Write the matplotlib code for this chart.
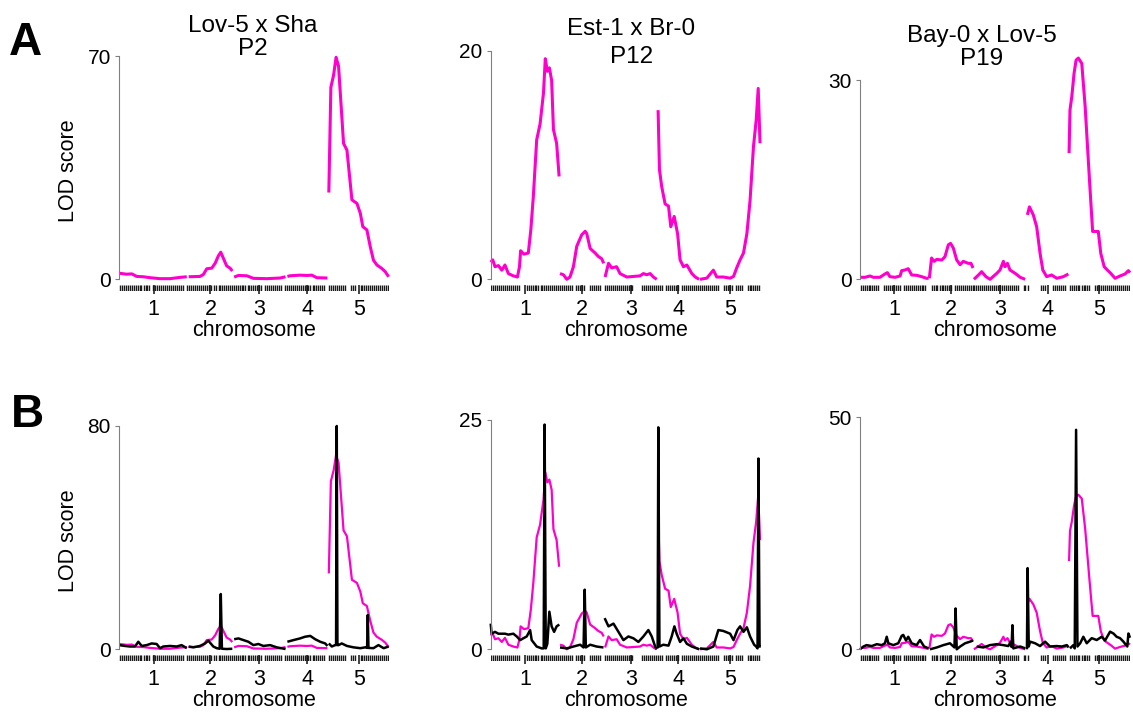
import matplotlib
matplotlib.use("Agg")
import matplotlib.pyplot as plt

plt.rcParams['font.family'] = ['Liberation Sans', 'DejaVu Sans']

W, H = 1133, 717
MAGENTA = '#ff00cc'

# Arabidopsis chromosome lengths (Mb), genome axis is cumulative
chrom_len = [30.4, 19.7, 23.5, 18.6, 27.0]
chrom_labels = ['1', '2', '3', '4', '5']

# shared marker map (cumulative Mb)
marker_map = [
    0.3, 1.2, 2.0, 2.9, 3.8, 4.6, 5.5, 6.4, 7.2, 8.1, 9.0, 9.8, 10.7, 11.6, 12.4,
    13.3, 14.2, 15.0, 15.9, 16.8, 17.6, 18.5, 19.4, 20.2, 21.1, 22.0, 22.8, 23.7,
    24.6, 25.4, 26.3, 27.2, 28.0, 28.9, 29.8,
    30.8, 31.6, 32.5, 33.4, 34.2, 35.1, 36.0, 36.8, 37.7, 38.6, 39.4, 40.3, 41.2,
    42.0, 42.9, 43.8, 44.6, 45.5, 46.4, 47.2, 48.1, 49.0, 49.8,
    50.5, 51.4, 52.2, 53.1, 54.0, 54.8, 55.7, 56.6, 57.4, 58.3, 59.2, 60.0, 60.9,
    61.8, 62.6, 63.5, 64.4, 65.2, 66.1, 67.0, 67.8, 68.7, 69.6, 70.4, 71.3, 72.2, 73.0,
    74.0, 74.9, 75.7, 76.6, 77.5, 78.3, 79.2, 80.1, 80.9, 81.8, 82.7, 83.5, 84.4,
    85.3, 86.1, 87.0, 87.9, 88.7, 89.6, 90.5, 91.3,
    92.6, 93.5, 94.3, 95.2, 96.1, 96.9, 97.8, 98.7, 99.5, 100.4, 101.3, 102.1, 103.0,
    103.9, 104.7, 105.6, 106.5, 107.3, 108.2, 109.1, 109.9, 110.8, 111.7, 112.5,
    113.4, 114.3, 115.1, 116.0, 116.9, 117.7, 118.6,
]
# stretches without informative markers in each cross
gaps_p2 = [(14.0, 14.8), (28.5, 29.0), (40.6, 41.3), (63.3, 64.0), (71.5, 72.3),
           (90.6, 91.4), (100.0, 101.5), (104.0, 105.8)]
gaps_p12 = [(12.8, 15.2), (36.3, 36.9), (41.6, 43.3), (48.2, 49.9), (63.0, 66.8),
            (76.0, 76.8), (83.4, 83.9), (101.2, 102.9), (107.0, 107.5), (111.5, 113.2)]
gaps_p19 = [(8.6, 10.4), (18.3, 18.8), (29.2, 30.9), (41.0, 41.5), (69.8, 71.5),
            (74.3, 79.6), (82.3, 84.7), (91.2, 91.6), (101.5, 103.6)]

# ---- P2 : Lov-5 x Sha ----
p2_pos = [
    [0, 3.2, 5.5, 7.7, 10.6, 13.6, 18.0, 22.4, 26.8, 29.8],
    [30.6, 35.6, 37.1, 38.6, 40.8, 42.3, 43.7, 44.8, 46.3, 47.4, 48.9, 49.9],
    [50.7, 52.6, 56.3, 59.2, 65.1, 71.0, 73.4],
    [74.2, 75.4, 79.8, 82.8, 85.0, 87.2, 91.9],
    [92.5, 93.4, 94.6, 95.7, 96.8, 99.0, 100.5, 102.7, 104.9, 106.4, 107.5, 109.3,
     110.8, 112.2, 113.7, 115.9, 117.4, 118.9],
]
p2_lod = [
    [1.9, 1.6, 1.7, 0.9, 0.8, 0.5, 0.2, 0.2, 0.6, 0.8],
    [0.8, 0.9, 1.5, 3.3, 3.5, 5.0, 7.3, 8.5, 6.0, 4.2, 3.5, 2.6],
    [0.7, 1.2, 1.1, 0.3, 0.2, 0.4, 0.8],
    [0.9, 1.1, 1.3, 1.2, 1.3, 0.5, 0.4],
    [27.2, 60.2, 64.0, 69.6, 66.8, 42.6, 40.5, 24.9, 23.8, 20.7, 16.5, 15.5,
     10.2, 6.0, 4.5, 3.4, 2.4, 0.8],
]
p2_cof_pos = [
    [0, 2.5, 4.7, 6.9, 8.4, 9.9, 12.1, 14.3, 16.5, 18.0, 19.4, 22.4, 25.3, 27.5, 29.8],
    [30.6, 32.7, 35.6, 37.9, 39.3, 41.5, 43.0, 44.3, 44.8, 45.3, 47.4, 49.9],
    [50.7, 52.6, 54.8, 57.0, 59.2, 61.4, 63.6, 66.6, 69.5, 73.4],
    [74.2, 76.9, 79.8, 82.0, 84.3, 86.5, 88.7, 90.9, 91.9],
    [92.5, 93.8, 95.3, 95.7, 96.0, 96.3, 96.8, 98.2, 100.5, 103.4, 106.4, 108.6,
     109.4, 109.7, 110.0, 112.2, 114.4, 116.7, 118.9],
]
p2_cof_lod = [
    [1.5, 1.2, 1.0, 1.0, 2.7, 1.2, 1.5, 2.1, 1.9, 0.4, 1.0, 1.2, 1.0, 1.5, 0.4],
    [1.0, 0.7, 1.2, 2.1, 3.1, 1.0, 0.4, 0.2, 19.8, 0.2, 0.1, 0.2],
    [3.6, 3.9, 3.3, 2.7, 1.5, 1.9, 1.2, 1.5, 0.7, 0.1],
    [2.7, 3.3, 3.9, 4.5, 4.8, 3.6, 2.7, 2.1, 1.2],
    [2.1, 1.0, 1.5, 1.5, 80.0, 1.5, 1.5, 2.1, 1.2, 0.7, 0.4, 0.7,
     0.5, 12.3, 0.5, 0.4, 1.5, 0.4, 1.0],
]

# ---- P12 : Est-1 x Br-0 ----
p12_pos = [
    [0, 0.9, 1.9, 3.4, 4.9, 6.3, 7.8, 10.0, 11.8, 12.7, 13.2, 14.7, 16.6, 17.7, 18.8,
     20.3, 21.8, 23.3, 24.1, 25.0, 25.9, 26.9, 27.7, 29.1, 30.2],
    [30.6, 32.1, 33.6, 35.0, 36.5, 38.0, 40.2, 41.7, 42.4, 43.9, 46.1, 47.5, 49.0, 49.9],
    [50.5, 52.0, 53.4, 55.6, 57.1, 60.1, 63.0, 65.9, 67.4, 68.9, 70.4, 71.8, 73.3],
    [73.9, 74.5, 75.5, 77.0, 78.5, 79.5, 81.0, 82.5, 83.6, 85.1, 86.6, 88.8, 90.3, 92.0],
    [92.4, 95.4, 98.3, 99.8, 102.7, 105.7, 107.2, 108.6, 110.1, 111.6, 113.1, 114.5,
     116.0, 117.2, 118.1, 118.9],
]
p12_lod = [
    [1.5, 1.7, 1.1, 1.2, 0.8, 1.25, 0.5, 0.3, 0.2, 1.1, 2.5, 2.2, 2.3, 4.3, 7.2,
     12.2, 13.6, 16.3, 19.3, 18.2, 18.5, 17.4, 13.1, 11.9, 9.0],
    [0.5, 0.4, 0.0, 0.2, 1.1, 2.9, 3.9, 4.2, 4.0, 2.7, 2.3, 2.0, 1.8, 1.4],
    [0.2, 1.4, 1.0, 1.1, 0.5, 0.2, 0.25, 0.3, 0.5, 0.4, 0.5, 0.2, 0.0],
    [14.8, 9.6, 8.1, 6.6, 6.4, 4.6, 5.5, 4.0, 1.7, 1.1, 1.25, 0.5, 0.2, 0.0],
    [0.0, 0.1, 0.8, 0.2, 0.2, 0.1, 0.25, 1.0, 1.7, 2.3, 4.0, 6.9, 11.6, 13.9, 16.7, 11.9],
]
p12_cof_pos = [
    [0, 0.4, 1.9, 3.4, 4.9, 6.3, 7.8, 10.0, 11.5, 13.0, 14.4, 15.9, 17.4, 18.1, 20.3,
     22.5, 23.4, 23.8, 24.3, 25.0, 25.9, 26.9, 28.0, 29.1, 30.3],
    [30.6, 33.6, 36.5, 39.5, 41.0, 41.5, 42.0, 43.9, 46.8, 49.8],
    [50.3, 52.0, 54.2, 56.4, 58.6, 60.8, 63.0, 65.2, 67.4, 69.6, 71.1, 72.6, 73.3],
    [73.7, 74.0, 74.5, 76.2, 78.5, 79.9, 81.1, 82.1, 83.6, 85.1, 86.6, 88.8, 91.0, 92.1],
    [92.4, 95.4, 98.3, 100.5, 102.7, 105.7, 107.2, 108.9, 110.1, 111.6, 113.1, 114.5,
     116.3, 117.2, 117.8, 118.2, 118.7, 119.2],
]
p12_cof_lod = [
    [2.8, 1.7, 1.9, 1.7, 1.7, 1.7, 1.6, 1.7, 1.4, 1.0, 1.2, 1.4, 2.1, 1.0, 0.3,
     0.1, 0.1, 24.5, 0.1, 0.6, 4.1, 2.5, 1.9, 2.5, 2.7],
    [0.2, 0.1, 0.3, 0.5, 0.2, 6.5, 0.2, 0.5, 0.3, 0.2],
    [3.4, 2.5, 2.8, 1.9, 1.0, 1.4, 1.2, 0.8, 1.4, 2.1, 1.4, 0.3, 0.0],
    [0.1, 24.2, 0.3, 0.5, 0.4, 1.4, 2.5, 1.7, 0.8, 1.2, 0.6, 0.3, 0.1, 0.0],
    [0.1, 0.0, 0.3, 2.1, 2.0, 1.7, 1.0, 2.1, 2.5, 1.9, 2.4, 1.4,
     0.5, 0.3, 0.1, 20.8, 0.3, 0.3],
]

# ---- P19 : Bay-0 x Lov-5 ----
p19_pos = [
    [0, 2.2, 4.4, 5.9, 8.8, 11.0, 12.1, 13.2, 15.5, 17.7, 18.4, 19.9, 21.3, 22.8,
     25.0, 27.2, 29.4, 30.3],
    [30.6, 31.6, 32.7, 33.9, 36.1, 37.5, 39.0, 40.0, 41.2, 42.7, 44.2, 45.6, 47.8,
     49.0, 49.9],
    [50.3, 52.3, 53.7, 55.6, 57.4, 60.4, 61.8, 63.3, 64.0, 65.1, 66.2, 68.5, 70.7, 72.9],
    [73.9, 74.8, 76.5, 78.0, 79.5, 80.7, 82.4, 84.6, 86.9, 89.8, 92.0],
    [92.3, 92.7, 93.5, 94.5, 95.4, 96.4, 97.9, 99.4, 101.3, 102.7, 105.2, 106.3,
     107.8, 109.2, 110.7, 112.6, 114.8, 117.0, 118.5, 119.2],
]
p19_lod = [
    [0.3, 0.3, 0.5, 0.3, 0.3, 0.8, 1.0, 0.4, 0.3, 0.5, 1.3, 1.4, 1.6, 0.65,
     0.6, 0.4, 0.15, 0.15],
    [0.15, 3.2, 2.7, 3.0, 2.9, 3.4, 5.2, 5.4, 4.7, 2.9, 2.2, 2.7, 2.4, 2.4, 1.7],
    [0.0, 0.65, 1.15, 0.4, 0.0, 0.9, 1.4, 2.7, 1.9, 2.4, 1.4, 0.9, 0.3, 0.0],
    [9.7, 10.9, 9.7, 7.9, 3.9, 1.4, 0.4, 0.65, 0.15, 0.4, 0.8],
    [19.0, 25.5, 27.5, 31.0, 33.0, 33.3, 32.5, 26.0, 15.0, 7.2, 7.2, 3.9,
     1.9, 1.4, 0.9, 0.15, 0.5, 0.8, 1.3, 1.0],
]
p19_cof_pos = [
    [0, 1.5, 2.9, 5.2, 7.4, 9.6, 11.0, 11.8, 12.5, 14.7, 16.9, 18.4, 19.1, 20.3,
     21.3, 22.8, 25.0, 26.5, 28.3, 30.3],
    [30.9, 33.9, 36.8, 39.7, 41.7, 42.2, 42.7, 44.2, 46.4, 48.6, 49.9],
    [51.5, 54.5, 57.4, 60.4, 63.3, 65.5, 66.5, 66.9, 67.3, 67.7, 70.7, 73.0],
    [73.7, 74.0, 74.5, 75.1, 77.3, 79.5, 81.7, 83.9, 86.8, 89.1, 91.3, 92.1],
    [92.7, 94.2, 94.8, 95.4, 96.0, 97.2, 98.6, 100.1, 102.3, 104.5, 106.7, 108.2,
     110.4, 111.9, 113.3, 114.8, 116.3, 117.5, 118.0, 118.5, 119.2],
]
p19_cof_lod = [
    [0.0, 0.6, 0.9, 0.7, 1.1, 0.9, 1.3, 2.7, 1.3, 0.9, 1.3, 2.9, 3.1, 1.9,
     2.7, 1.3, 0.9, 2.0, 0.6, 0.2],
    [0.0, 0.4, 0.9, 1.3, 0.4, 8.8, 0.0, 0.6, 1.3, 1.65, 1.9],
    [0.6, 0.4, 0.9, 1.1, 0.9, 0.7, 1.6, 0.5, 5.2, 0.2, 0.6, 0.2],
    [0.0, 17.5, 0.6, 1.65, 1.3, 0.7, 1.65, 0.6, 0.7, 0.6, 0.9, 0.4],
    [0.2, 0.9, 0.2, 47.3, 0.6, 1.3, 2.7, 1.3, 2.4, 2.0, 2.7, 1.9,
     3.8, 3.4, 2.7, 2.4, 1.65, 0.9, 0.6, 3.4, 2.5],
]

crosses = [
    dict(title='Lov-5 x Sha', pop='P2', pos=p2_pos, lod=p2_lod,
         cof_pos=p2_cof_pos, cof_lod=p2_cof_lod, gaps=gaps_p2, ymax=(70, 80)),
    dict(title='Est-1 x Br-0', pop='P12', pos=p12_pos, lod=p12_lod,
         cof_pos=p12_cof_pos, cof_lod=p12_cof_lod, gaps=gaps_p12, ymax=(20, 25)),
    dict(title='Bay-0 x Lov-5', pop='P19', pos=p19_pos, lod=p19_lod,
         cof_pos=p19_cof_pos, cof_lod=p19_cof_lod, gaps=gaps_p19, ymax=(30, 50)),
]

# layout in figure pixels
col_left = [119.3, 490.7, 860.0]
col_width = 270.0
row_zero = [279.3, 649.3]
row_top = [[56.0, 50.7, 80.0], [426.0, 420.0, 417.3]]
title_base = [(31.7, 55.0), (35.0, 63.3), (41.7, 65.0)]
title_x = [253.0, 631.5, 982.0]

genome_len = sum(chrom_len)
starts = [sum(chrom_len[:i]) for i in range(5)]
centers = [s + l / 2 for s, l in zip(starts, chrom_len)]


def fx(px):
    return px / W


def fy(py):
    return 1 - py / H


fig = plt.figure(figsize=(W / 100, H / 100), dpi=100)

for row in range(2):
    y0 = row_zero[row]
    for col, cr in enumerate(crosses):
        left = col_left[col]
        top = row_top[row][col]
        ymax = cr['ymax'][row]
        ax = fig.add_axes([fx(left), fy(y0), col_width / W, (y0 - top) / H])
        ax.set_xlim(0, genome_len)
        ax.set_ylim(0, ymax)
        for s in ['top', 'right', 'bottom']:
            ax.spines[s].set_visible(False)
        ax.spines['left'].set_color('#808080')
        ax.spines['left'].set_linewidth(0.8)
        ax.set_xticks([])
        ax.set_yticks([0, ymax])
        ax.tick_params(axis='y', length=3, width=0.8, color='#808080',
                       pad=3.0, labelsize=15)

        lw_m = 2.2 if row == 0 else 1.6
        for xs, ys in zip(cr['pos'], cr['lod']):
            ax.plot(xs, ys, color=MAGENTA, lw=lw_m, clip_on=False,
                    solid_capstyle='butt')
        if row == 1:
            for xs, ys in zip(cr['cof_pos'], cr['cof_lod']):
                ax.plot(xs, ys, color='black', lw=1.8, clip_on=False,
                        solid_capstyle='butt')

        # marker rug and chromosome axis
        rax = fig.add_axes([fx(left), fy(y0 + 11.7), col_width / W, 6 / H])
        rax.set_xlim(0, genome_len)
        rax.set_ylim(0, 1)
        for s in rax.spines.values():
            s.set_visible(False)
        rax.set_yticks([])
        markers = [m for m in marker_map
                   if not any(a <= m <= b for a, b in cr['gaps'])]
        rax.vlines(markers, 0, 1, color='#1a1a1a', lw=1.0)
        rax.vlines(centers, -0.5, 1, color='#111111', lw=1.1, clip_on=False)
        rax.set_xticks(centers, chrom_labels)
        rax.tick_params(axis='x', length=0, pad=5.5, labelsize=15.5)

        fig.text(fx(left + col_width / 2), fy(y0 + 56.5), 'chromosome',
                 ha='center', va='baseline', fontsize=15.5)

        if row == 0:
            b1, b2 = title_base[col]
            fig.text(fx(title_x[col]), fy(b1), cr['title'], ha='center',
                     va='baseline', fontsize=17.5)
            fig.text(fx(title_x[col]), fy(b2), cr['pop'], ha='center',
                     va='baseline', fontsize=17.5)

    fig.text(fx(68), fy(y0 - 109), 'LOD score', rotation=90, ha='center',
             va='center', fontsize=15.5)

fig.text(fx(9), fy(55), 'A', fontsize=33, fontweight='bold', va='baseline')
fig.text(fx(11), fy(426.7), 'B', fontsize=33, fontweight='bold', va='baseline')

fig.savefig('out.png', dpi=100)
